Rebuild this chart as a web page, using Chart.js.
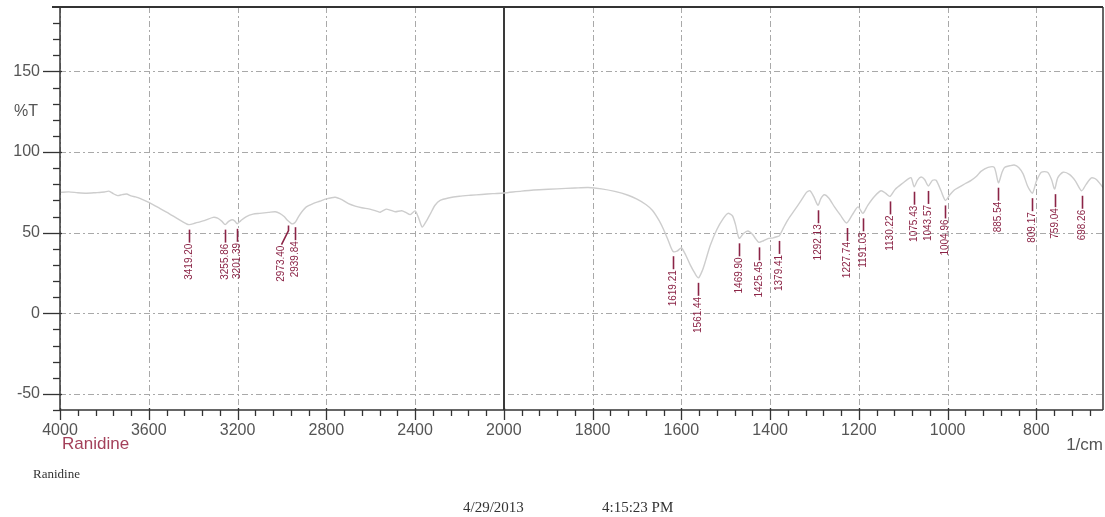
<!DOCTYPE html>
<html>
<head>
<meta charset="utf-8">
<script src="https://cdn.jsdelivr.net/npm/chart.js@4.4.1/dist/chart.umd.min.js"></script>
<style>
html,body{margin:0;padding:0;background:#fff;}
#c{display:block;}
</style>
</head>
<body>
<canvas id="c" width="1105" height="517"></canvas>
<script>
// ---- data ----
const wavenumber = [4000,3960,3920,3880,3840,3800,3780,3760,3740,3720,3700,3680,3660,3640,3600,3560,3520,3480,3450,3419.2,3390,3350,3310,3290,3270,3255.86,3240,3225,3212,3201.39,3185,3160,3130,3100,3060,3030,3010,2990,2973.4,2955,2939.84,2925,2910,2890,2860,2830,2800,2760,2730,2700,2670,2640,2600,2570,2557,2530,2512,2490,2460,2440,2422,2400,2385,2368,2350,2330,2310,2287,2250,2200,2150,2100,2050,2000,
1960,1920,1880,1840,1810,1780,1750,1720,1700,1680,1665,1650,1640,1630,1619.21,1610,1600,1590,1580,1570,1561.44,1552,1545,1535,1520,1505,1495,1485,1478,1469.9,1460,1450,1440,1432,1425.45,1415,1405,1393,1385,1379.41,1370,1360,1345,1330,1318,1310,1302,1292.13,1286,1278,1268,1255,1242,1227.74,1215,1202,1191.03,1180,1165,1150,1140,1130.22,1118,1100,1088,1082,1075.43,1068,1060,1052,1043.57,1034,1026,1015,1004.96,995,985,976,960,947,935,925,909,895,885.54,878,872,860,850,840,830,820,809.17,800,789,775,766,759.04,752,740,725,712,698.26,688,676,665,650];
const transmittance = [75,75.3,74.8,74.5,74.8,75.2,75.8,74.2,73,73.6,74,72.8,72.2,71.3,68.8,65.8,62.8,59.5,57,55,56,57.5,59.5,59,57,55,57,58,57.2,55.5,57.5,60,61.5,62,62.6,63,62,60,57.5,55.5,56.5,60,63,66,68,69.5,71,72,70.5,68,66.5,65.5,64.5,63.2,62.7,64.6,64,63,63.6,62.4,61.2,63.5,59.5,53.5,57,62,67,70,71.5,72.6,73.2,73.7,74.2,74.6,
75.8,76.6,77.2,77.7,78,77.2,75.6,73.2,70.8,67.5,63.8,57.5,52,45.5,38.5,38.5,40.5,36,30,25,22,27,33,42,52,59,62,60.5,55,46.5,49.5,51,49,46,44,45,46.3,46.8,47.5,48,53,58,64,70,75,76,72.5,67,71,73.5,71.5,66,61,56,61,66,62,67,72.5,76,74.5,72.5,77,81,83.5,84,78.5,82.5,84.5,83,79,82.5,82.5,76,70,73.5,76.5,78,80.5,82.5,85,88,90.5,90.5,81,87,90.5,91.5,92,90.5,86.5,79,74.5,82,87.5,87.5,83,77,84,87.5,86,82,76,80,84,83,78];

const peakWavenumbers = [3419.20,3255.86,3201.39,2973.40,2939.84,1619.21,1561.44,1469.90,1425.45,1379.41,1292.13,1227.74,1191.03,1130.22,1075.43,1043.57,1004.96,885.54,809.17,759.04,698.26];
const peakTransmittance = [55,55,55.5,57.5,56.5,38.5,22,46.5,44,48,67,56,62,72.5,78.5,79,70,81,74.5,77,76];
const peakLabels = ['3419.20','3255.86','3201.39','2973.40','2939.84','1619.21','1561.44','1469.90','1425.45','1379.41','1292.13','1227.74','1191.03','1130.22','1075.43','1043.57','1004.96','885.54','809.17','759.04','698.26'];

const xTickValues = [4000,3600,3200,2800,2400,2000,1800,1600,1400,1200,1000,800];
const yTickValues = [-50,0,50,100,150];
const xMin = 650, xMax = 4000, xBreak = 2000;
const yMin = -60, yMax = 190;

// ---- split wavenumber scale (4000-2000 compressed 2x, like FTIR plots) ----
class SplitWaveScale extends Chart.LinearScale {
  determineDataLimits(){ this.min = this.options.min; this.max = this.options.max; }
  buildTicks(){ return xTickValues.map(v => ({value: v})); }
  _units(v){ return v >= xBreak ? (this.max - v) / 2 : (this.max - xBreak) / 2 + (xBreak - v); }
  getPixelForValue(v){
    const total = this._units(this.min);
    return this.left + this._units(v) / total * this.width;
  }
  getValueForPixel(p){
    const total = this._units(this.min);
    const u = (p - this.left) / this.width * total;
    const half = (this.max - xBreak) / 2;
    return u <= half ? this.max - 2 * u : xBreak - (u - half);
  }
}
SplitWaveScale.id = 'splitwave';
SplitWaveScale.defaults = {};
Chart.register(SplitWaveScale);

const points = wavenumber.map((w, i) => ({x: w, y: transmittance[i]}));
const labelNudge = {'2973.40': -7};

const decor = {
  id: 'decor',
  beforeDatasetsDraw(chart){
    const {ctx, chartArea: a, scales: {x, y}} = chart;
    ctx.save();
    ctx.strokeStyle = '#a9a9a9';
    ctx.lineWidth = 1;
    ctx.setLineDash([6,3,2,3]);
    xTickValues.forEach(v => {
      if (v === xBreak) return;
      const px = Math.round(x.getPixelForValue(v)) + 0.5;
      ctx.beginPath(); ctx.moveTo(px, a.top); ctx.lineTo(px, a.bottom); ctx.stroke();
    });
    yTickValues.forEach(v => {
      const py = Math.round(y.getPixelForValue(v)) + 0.5;
      ctx.beginPath(); ctx.moveTo(a.left, py); ctx.lineTo(a.right, py); ctx.stroke();
    });
    ctx.setLineDash([]);
    ctx.strokeStyle = '#3a3a3a';
    ctx.lineWidth = 2;
    const bx = Math.round(x.getPixelForValue(xBreak));
    ctx.beginPath(); ctx.moveTo(bx, a.top); ctx.lineTo(bx, a.bottom); ctx.stroke();
    ctx.restore();
  },
  afterDatasetsDraw(chart){
    const {ctx, chartArea: a, scales: {x, y}} = chart;
    ctx.save();
    // frame
    ctx.strokeStyle = '#333';
    ctx.lineWidth = 2;
    ctx.beginPath(); ctx.moveTo(52, a.top); ctx.lineTo(a.right, a.top); ctx.stroke();
    ctx.lineWidth = 1.5;
    ctx.beginPath(); ctx.moveTo(a.right, a.top); ctx.lineTo(a.right, a.bottom); ctx.stroke();
    ctx.beginPath(); ctx.moveTo(a.left, a.top); ctx.lineTo(a.left, a.bottom); ctx.stroke();
    ctx.beginPath(); ctx.moveTo(a.left, a.bottom); ctx.lineTo(a.right, a.bottom); ctx.stroke();
    // x ticks
    ctx.lineWidth = 1.3;
    xTickValues.forEach(v => {
      const px = Math.round(x.getPixelForValue(v)) + 0.5;
      ctx.beginPath(); ctx.moveTo(px, a.bottom - 2); ctx.lineTo(px, a.bottom + 10); ctx.stroke();
    });
    const minor = [];
    for (let v = xMax; v > xBreak; v -= 80) if (v % 400) minor.push(v);
    for (let v = xBreak; v >= xMin; v -= 40) if (v % 200) minor.push(v);
    minor.forEach(v => {
      const px = Math.round(x.getPixelForValue(v)) + 0.5;
      ctx.beginPath(); ctx.moveTo(px, a.bottom); ctx.lineTo(px, a.bottom + 6); ctx.stroke();
    });
    // y ticks
    for (let v = yMin; v < yMax; v += 10) {
      const py = Math.round(y.getPixelForValue(v)) + 0.5;
      const major = v % 50 === 0;
      ctx.beginPath(); ctx.moveTo(major ? a.left - 17 : a.left - 7, py); ctx.lineTo(a.left + (major ? 2 : 0), py); ctx.stroke();
    }
    // peak markers
    ctx.strokeStyle = '#8b2446';
    ctx.fillStyle = '#8b2446';
    ctx.lineWidth = 1.6;
    ctx.font = '10px "Liberation Sans", Arial, sans-serif';
    peakWavenumbers.forEach((w, i) => {
      const px = Math.round(x.getPixelForValue(w)) + 0.5;
      const top = y.getPixelForValue(peakTransmittance[i]) + 5;
      const nudge = labelNudge[peakLabels[i]] || 0;
      const bottom = top + 13;
      ctx.beginPath();
      ctx.moveTo(px, top);
      if (nudge) { ctx.lineTo(px, top + 5); ctx.lineTo(px + nudge, bottom + 6); }
      else ctx.lineTo(px, bottom);
      ctx.stroke();
      ctx.save();
      ctx.translate(px + nudge, nudge ? bottom + 7 : bottom + 1);
      ctx.rotate(-Math.PI / 2);
      ctx.textAlign = 'right';
      ctx.textBaseline = 'middle';
      ctx.fillText(peakLabels[i], 0, 0);
      ctx.restore();
    });
    ctx.restore();
  },
  afterDraw(chart){
    const {ctx, chartArea: a, scales: {y}} = chart;
    ctx.save();
    ctx.fillStyle = '#555';
    ctx.font = '16px "Liberation Sans", Arial, sans-serif';
    ctx.textAlign = 'right';
    ctx.textBaseline = 'middle';
    ctx.fillText('%T', 38, y.getPixelForValue(125));
    ctx.font = '17px "Liberation Sans", Arial, sans-serif';
    ctx.textBaseline = 'top';
    ctx.fillText('1/cm', a.right, a.bottom + 27);
    ctx.textAlign = 'left';
    ctx.fillStyle = '#a3405a';
    ctx.fillText('Ranidine', a.left + 2, a.bottom + 26);
    ctx.fillStyle = '#333';
    ctx.font = '13px "Liberation Serif", "Times New Roman", serif';
    ctx.fillText('Ranidine', 33, 468);
    ctx.font = '15px "Liberation Serif", "Times New Roman", serif';
    ctx.fillText('4/29/2013', 463, 501);
    ctx.fillText('4:15:23 PM', 602, 501);
    ctx.restore();
  }
};

new Chart(document.getElementById('c'), {
  type: 'line',
  data: {
    datasets: [{
      data: points,
      borderColor: '#cdcdcd',
      borderWidth: 1.4,
      pointRadius: 0,
      fill: false,
      tension: 0.25
    }]
  },
  options: {
    responsive: false,
    animation: false,
    events: [],
    layout: {padding: {top: 7, right: 2, left: 0, bottom: 0}},
    plugins: {legend: {display: false}, tooltip: {enabled: false}},
    scales: {
      x: {
        type: 'splitwave',
        min: xMin, max: xMax,
        grid: {display: false, drawTicks: false},
        border: {display: false},
        ticks: {
          autoSkip: false, maxRotation: 0, padding: 11, color: '#555',
          font: {size: 16, family: '"Liberation Sans", Arial, sans-serif'},
          callback: v => String(v)
        },
        afterFit: s => { s.height = 107; s.paddingLeft = 0; s.paddingRight = 0; }
      },
      y: {
        type: 'linear',
        min: yMin, max: yMax,
        afterBuildTicks: s => { s.ticks = yTickValues.map(v => ({value: v})); },
        grid: {display: false, drawTicks: false},
        border: {display: false},
        ticks: {
          padding: 20, color: '#555',
          font: {size: 16, family: '"Liberation Sans", Arial, sans-serif'}
        },
        afterFit: s => { s.width = 60; s.paddingTop = 0; s.paddingBottom = 0; }
      }
    }
  },
  plugins: [decor]
});
</script>
</body>
</html>
